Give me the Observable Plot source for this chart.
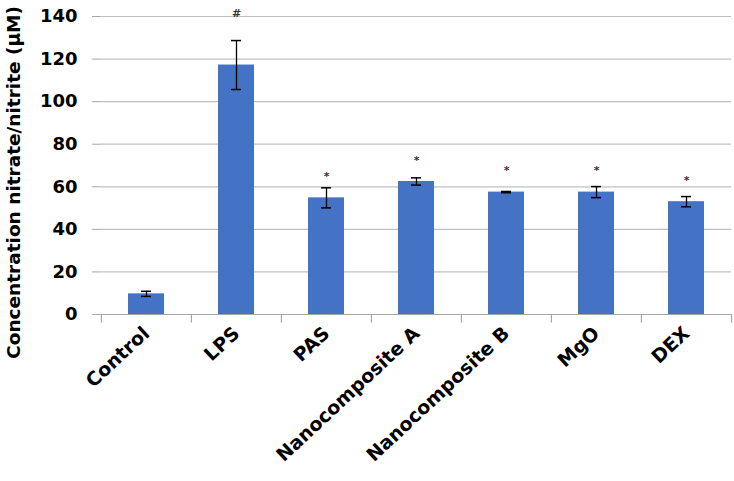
<!DOCTYPE html>
<html>
<head>
<meta charset="utf-8">
<script src="https://cdn.jsdelivr.net/npm/d3@7"></script>
<script src="https://cdn.jsdelivr.net/npm/@observablehq/plot@0.6"></script>
<style>
  html, body { margin: 0; padding: 0; background: #fff; }
  #chart { width: 734px; height: 481px; }
</style>
</head>
<body>
<div id="chart"></div>
<script>
const categories = ["Control", "LPS", "PAS", "Nanocomposite A", "Nanocomposite B", "MgO", "DEX"];
const means = [9.7, 117.2, 54.8, 62.5, 57.5, 57.5, 53.0];
const errors = [1.2, 11.5, 4.7, 1.7, 0.3, 2.6, 2.4];
const marks = ["", "#", "*", "*", "*", "*", "*"];
const markY = [null, 141.5, 65, 72.5, 67.5, 67.5, 63];
const yTicks = [0, 20, 40, 60, 80, 100, 120, 140];
const yLabel = "Concentration nitrate/nitrite (μM)";

const data = categories.map((c, i) => ({c, m: means[i], e: errors[i], s: marks[i], sy: markY[i]}));
const font = "'DejaVu Sans', sans-serif";
const W = 734, H = 481, ML = 100, MR = 3, MT = 16, MB = 167;
const step = (W - ML - MR) / categories.length;

const chart = Plot.plot({
  width: W, height: H,
  marginLeft: ML, marginRight: MR, marginTop: MT, marginBottom: MB,
  style: {fontFamily: font, background: "#fff"},
  x: {domain: categories, padding: 0, label: null},
  y: {domain: [0, 140], label: null},
  marks: [
    Plot.ruleY(yTicks, {stroke: "#c0c0c0", strokeWidth: 1.2}),
    Plot.barY(data, {x: "c", y: "m", fill: "#4472C4", insetLeft: 27, insetRight: 27}),
    Plot.ruleX(data, {x: "c", y1: d => d.m - d.e, y2: d => d.m + d.e, stroke: "#000", strokeWidth: 1.3}),
    Plot.tickY(data, {x: "c", y: d => d.m + d.e, stroke: "#000", strokeWidth: 1.5, insetLeft: 40, insetRight: 40}),
    Plot.tickY(data, {x: "c", y: d => d.m - d.e, stroke: "#000", strokeWidth: 1.5, insetLeft: 40, insetRight: 40}),
    Plot.text(data.filter(d => d.s), {x: "c", y: "sy", text: "s", fontSize: 11, fill: "#333", fontWeight: "bold"}),
    Plot.ruleY([0], {stroke: "#a6a6a6", strokeWidth: 1.2}),
    Plot.ruleX(categories, {x: d => d, y1: 0, y2: -4, dx: -step / 2, stroke: "#a6a6a6", strokeWidth: 1.2}),
    Plot.ruleX(categories.slice(-1), {x: d => d, y1: 0, y2: -4, dx: step / 2, stroke: "#a6a6a6", strokeWidth: 1.2}),
    Plot.axisY({ticks: yTicks, tickSize: 8, tickPadding: 15, stroke: "#a6a6a6", fill: "#000", fontSize: 18, fontWeight: "bold", label: null}),
    Plot.ruleX([0], {frameAnchor: "left", stroke: "#a6a6a6", strokeWidth: 1.2}),
    Plot.axisX({tickSize: 0, tickPadding: 16, tickRotate: -43, fontSize: 19, fontWeight: "bold", fill: "#000", label: null}),
    Plot.text([yLabel], {frameAnchor: "left", textAnchor: "middle", rotate: -90, dx: -86, dy: 17, fontSize: 18.5, fontWeight: "bold", fill: "#000"})
  ]
});
document.getElementById("chart").appendChild(chart);
</script>
</body>
</html>
